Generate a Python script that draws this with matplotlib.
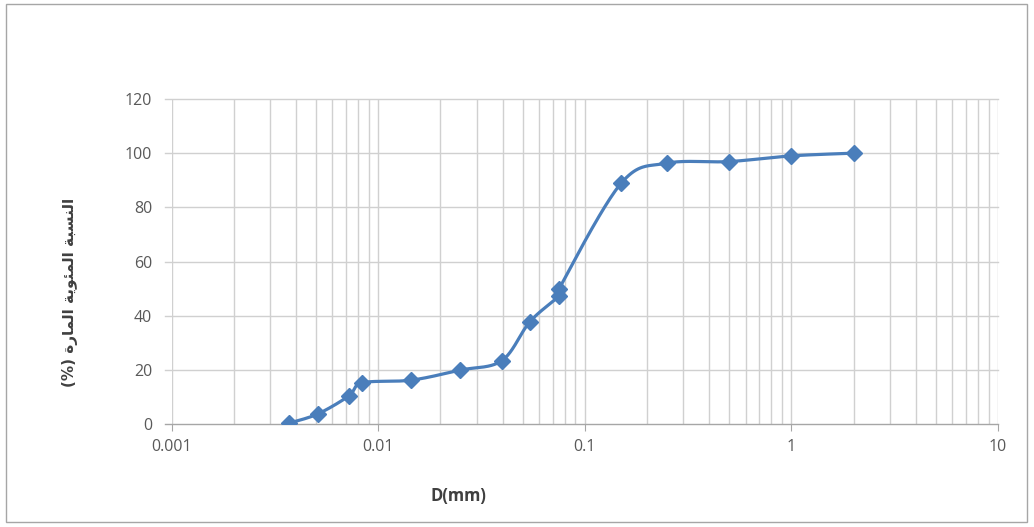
import numpy as np
import matplotlib
matplotlib.use("Agg")
import matplotlib.pyplot as plt
from matplotlib.patches import Rectangle
from matplotlib.ticker import LogLocator, FixedLocator, NullFormatter

# Grain size distribution (hydrometer + sieve)
diameter_mm = [0.0037, 0.0051, 0.0072, 0.0084, 0.0145, 0.0249, 0.0397,
               0.0543, 0.075, 0.075, 0.15, 0.25, 0.5, 1.0, 2.0]
percent_passing = [0.3, 3.7, 10.3, 15.2, 16.2, 19.9, 23.4,
                   37.8, 47.3, 49.8, 88.9, 96.3, 96.9, 99.0, 100.0]

x_ticks = [0.001, 0.01, 0.1, 1, 10]
x_tick_labels = ["0.001", "0.01", "0.1", "1", "10"]
y_ticks = [0, 20, 40, 60, 80, 100, 120]

x_label = "D(mm)"

# Arabic y-label "النسبة المئوية المارة (%)" written with contextual
# presentation forms in visual (left-to-right) order.
w1 = "\uFE8D\uFEDF\uFEE8\uFEB4\uFE92\uFE94"            # النسبة
w2 = "\uFE8D\uFEDF\uFEE4\uFE8C\uFEEE\uFEF3\uFE94"      # المئوية
w3 = "\uFE8D\uFEDF\uFEE4\uFE8E\uFEAD\uFE93"            # المارة
y_label = "(%) " + w3[::-1] + " " + w2[::-1] + " " + w1[::-1]

LINE = "#4A7EBB"
GRID = "#D0D0D0"
AXIS = "#A6A6A6"
TXT = "#595959"

W, H = 1034, 527
X0, X1, Y0, Y1 = 171.5, 998, 424, 99

fig = plt.figure(figsize=(W / 100, H / 100), dpi=100)
fig.patch.set_facecolor("white")
fig.patches.append(Rectangle((6 / W, 1 - 522 / H), 1021 / W, 518 / H,
                             transform=fig.transFigure, fill=False,
                             edgecolor=AXIS, linewidth=1.0))

ax = fig.add_axes([X0 / W, 1 - Y0 / H, (X1 - X0) / W, (Y0 - Y1) / H])
ax.set_xscale("log")
ax.set_xlim(0.001, 10)
ax.set_ylim(0, 120)


def smooth_curve(xs, ys, n=40):
    """Bezier smoothing in screen-proportional space (log x)."""
    sx, sy = (X1 - X0) / 4, (Y0 - Y1) / 120
    P = np.column_stack([np.log10(xs) * sx, np.array(ys) * sy])
    out = [P[0]]
    for i in range(len(P) - 1):
        p0 = P[i - 1] if i > 0 else P[i]
        p1, p2 = P[i], P[i + 1]
        p3 = P[i + 2] if i + 2 < len(P) else P[i + 1]
        c1 = p1 + (p2 - p0) / 6
        c2 = p2 - (p3 - p1) / 6
        t = np.linspace(0, 1, n)[1:, None]
        seg = ((1 - t) ** 3 * p1 + 3 * (1 - t) ** 2 * t * c1
               + 3 * (1 - t) * t ** 2 * c2 + t ** 3 * p2)
        out.extend(seg)
    out = np.array(out)
    return 10 ** (out[:, 0] / sx), out[:, 1] / sy


cx, cy = smooth_curve(diameter_mm, percent_passing)
ax.plot(cx, cy, color=LINE, linewidth=2.3, solid_capstyle="round", zorder=3)
ax.plot(diameter_mm, percent_passing, linestyle="none", marker="D",
        markersize=8.5, color=LINE, markeredgecolor=LINE, zorder=4)

# Vertical grid at every log position; horizontal lines every 20,
# running slightly past the left edge of the plot area
ax.xaxis.set_major_locator(FixedLocator(x_ticks))
ax.xaxis.set_minor_locator(LogLocator(base=10, subs=np.arange(2, 10)))
ax.xaxis.set_minor_formatter(NullFormatter())
ax.set_xticklabels(x_tick_labels)
ax.set_yticks(y_ticks)
ax.grid(True, which="both", axis="x", color=GRID, linewidth=1.0)
ax.set_axisbelow(True)
lead = 7 / (X1 - X0)
for yv in y_ticks[1:]:
    ax.axhline(yv, xmin=-lead, xmax=1, color=GRID, linewidth=1.0,
               clip_on=False, zorder=0.5)
ax.axhline(0, xmin=-lead, xmax=1, color=AXIS, linewidth=1.0,
           clip_on=False, zorder=2.5)

for side in ("top", "right", "left", "bottom"):
    ax.spines[side].set_visible(False)

ax.tick_params(axis="x", which="major", direction="out", length=5,
               color=AXIS, labelsize=11.5, labelcolor=TXT, pad=6)
ax.tick_params(axis="x", which="minor", length=0)
ax.tick_params(axis="y", length=0, labelsize=11.5, labelcolor=TXT, pad=14)
for lab in ax.get_xticklabels() + ax.get_yticklabels():
    lab.set_family("Open Sans")

fig.text(458 / W, 1 - 496 / H, x_label, ha="center", va="center",
         fontsize=12, fontweight="bold", color="#404040", family="Open Sans")
fig.text(70 / W, 1 - 292 / H, y_label, ha="center", va="center",
         rotation=90, fontsize=11, fontweight="bold", color="#404040",
         family="DejaVu Sans")

fig.savefig("out.png", dpi=100)
